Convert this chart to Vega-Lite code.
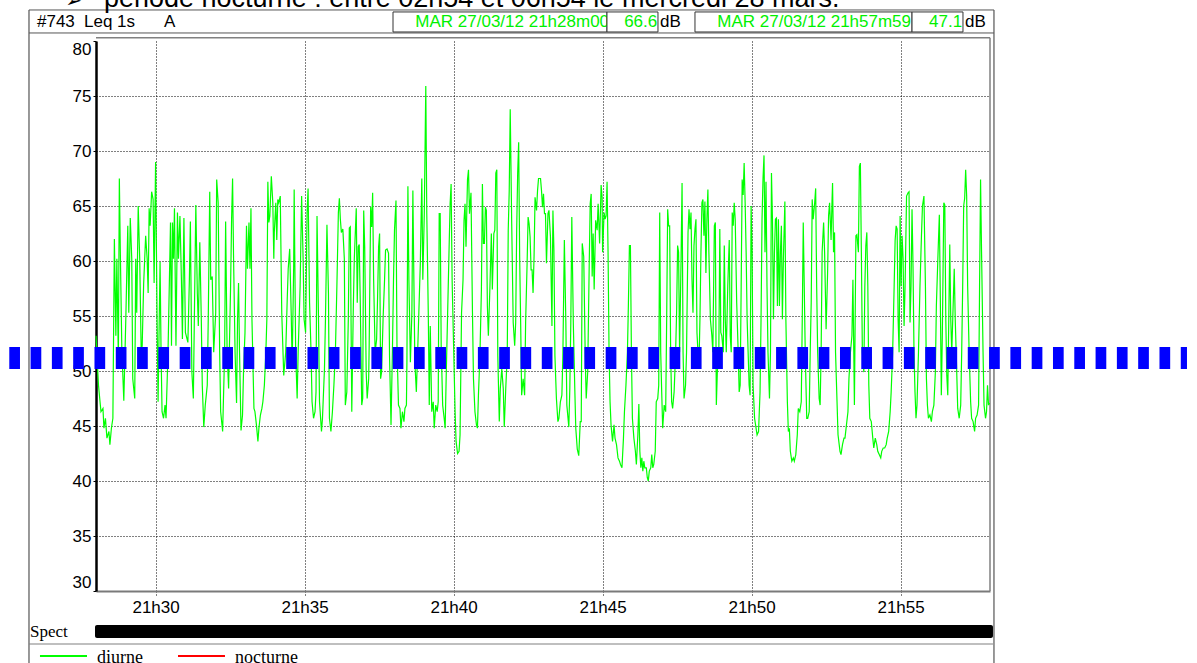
{
"$schema": "https://vega.github.io/schema/vega-lite/v6.json",
"width": 894, "height": 550,
"autosize": {"type": "none"},
"padding": {"left": 96, "top": 41, "right": 207, "bottom": 72},
"background": "white",
"config": {"view": {"stroke": null}, "font": "Liberation Sans", "axis": {"labelFont": "Liberation Sans"}},
"datasets": {"leq": [
{"t":0,"db":53.2},{"t":5,"db":48.7},{"t":10,"db":46.3},{"t":14,"db":46.6},{"t":16,"db":44.8},{"t":19,"db":45.7},{"t":22,"db":43.9},{"t":26,"db":44.5},{"t":28,"db":43.3},{"t":31,"db":44.8},{"t":34,"db":45.7},{"t":37,"db":62.0},{"t":40,"db":53.2},{"t":42,"db":60.2},{"t":45,"db":51.1},{"t":47,"db":67.5},{"t":49,"db":60.8},{"t":52,"db":52.0},{"t":56,"db":47.3},{"t":60,"db":54.7},{"t":64,"db":63.2},{"t":66,"db":55.3},{"t":69,"db":63.9},{"t":72,"db":60.2},{"t":74,"db":49.3},{"t":78,"db":47.5},{"t":80,"db":60.2},{"t":82,"db":55.3},{"t":85,"db":65.0},{"t":88,"db":60.2},{"t":91,"db":51.7},{"t":93,"db":52.3},{"t":96,"db":58.0},{"t":100,"db":62.3},{"t":103,"db":60.2},{"t":105,"db":57.1},{"t":107,"db":64.8},{"t":109,"db":63.2},{"t":112,"db":66.3},{"t":115,"db":65.6},{"t":117,"db":58.0},{"t":120,"db":69.0},{"t":123,"db":54.7},{"t":125,"db":47.2},{"t":129,"db":59.9},{"t":131,"db":51.7},{"t":133,"db":46.3},{"t":136,"db":45.7},{"t":139,"db":46.9},{"t":141,"db":45.7},{"t":145,"db":51.7},{"t":150,"db":63.5},{"t":152,"db":52.3},{"t":154,"db":63.5},{"t":156,"db":60.2},{"t":158,"db":64.8},{"t":161,"db":52.3},{"t":164,"db":64.4},{"t":166,"db":60.2},{"t":169,"db":64.1},{"t":172,"db":58.3},{"t":174,"db":52.9},{"t":177,"db":63.9},{"t":180,"db":53.5},{"t":185,"db":52.6},{"t":188,"db":58.3},{"t":190,"db":63.6},{"t":193,"db":49.9},{"t":196,"db":47.5},{"t":198,"db":54.7},{"t":201,"db":65.1},{"t":204,"db":57.1},{"t":206,"db":54.1},{"t":209,"db":61.7},{"t":212,"db":54.7},{"t":214,"db":48.7},{"t":217,"db":44.9},{"t":220,"db":46.9},{"t":224,"db":48.7},{"t":226,"db":54.7},{"t":229,"db":66.3},{"t":231,"db":58.3},{"t":234,"db":58.6},{"t":237,"db":51.7},{"t":241,"db":55.3},{"t":243,"db":67.4},{"t":246,"db":65.3},{"t":249,"db":51.7},{"t":251,"db":46.3},{"t":255,"db":44.5},
{"t":259,"db":51.7},{"t":261,"db":63.6},{"t":264,"db":51.7},{"t":267,"db":48.4},{"t":271,"db":57.7},{"t":273,"db":63.8},{"t":275,"db":67.5},{"t":277,"db":60.2},{"t":280,"db":51.7},{"t":283,"db":47.1},{"t":285,"db":54.7},{"t":287,"db":58.0},{"t":289,"db":51.7},{"t":292,"db":44.6},{"t":295,"db":46.0},{"t":297,"db":49.9},{"t":300,"db":53.5},{"t":303,"db":63.2},{"t":305,"db":59.3},{"t":308,"db":63.5},{"t":310,"db":59.3},{"t":312,"db":64.8},{"t":314,"db":54.7},{"t":318,"db":46.6},{"t":320,"db":46.3},{"t":323,"db":45.1},{"t":326,"db":43.6},{"t":328,"db":44.8},{"t":331,"db":46.0},{"t":334,"db":46.6},{"t":336,"db":47.2},{"t":339,"db":48.7},{"t":342,"db":51.7},{"t":344,"db":54.7},{"t":346,"db":67.2},{"t":348,"db":63.5},{"t":350,"db":64.1},{"t":353,"db":67.7},{"t":356,"db":65.3},{"t":358,"db":60.2},{"t":359,"db":62.6},{"t":362,"db":65.3},{"t":364,"db":61.9},{"t":366,"db":65.6},{"t":368,"db":65.3},{"t":371,"db":65.9},{"t":374,"db":55.3},{"t":378,"db":49.6},{"t":382,"db":51.7},{"t":385,"db":56.5},{"t":387,"db":59.3},{"t":390,"db":61.1},{"t":393,"db":55.3},{"t":395,"db":50.5},{"t":398,"db":59.5},{"t":399,"db":66.5},{"t":402,"db":51.7},{"t":405,"db":47.5},{"t":407,"db":51.7},{"t":411,"db":57.7},{"t":414,"db":65.9},{"t":417,"db":60.2},{"t":419,"db":54.7},{"t":422,"db":53.5},{"t":425,"db":64.4},{"t":427,"db":66.6},{"t":430,"db":56.2},{"t":433,"db":51.7},{"t":435,"db":47.2},{"t":438,"db":45.7},{"t":441,"db":46.3},{"t":443,"db":48.1},{"t":445,"db":64.1},{"t":448,"db":54.7},{"t":450,"db":47.2},{"t":454,"db":44.5},{"t":456,"db":45.7},{"t":460,"db":50.2},{"t":462,"db":54.7},{"t":465,"db":63.3},{"t":468,"db":57.1},{"t":470,"db":45.7},{"t":473,"db":44.5},{"t":476,"db":46.3},{"t":479,"db":48.7},{"t":482,"db":51.7},{"t":485,"db":57.7},{"t":488,"db":64.4},{"t":490,"db":65.7},{"t":492,"db":63.8},{"t":494,"db":62.6},{"t":497,"db":62.9},{"t":500,"db":60.2},{"t":502,"db":46.9},{"t":505,"db":48.1},{"t":508,"db":54.7},{"t":510,"db":63.0},
{"t":512,"db":63.1},{"t":515,"db":46.3},{"t":518,"db":55.6},{"t":520,"db":60.1},{"t":524,"db":64.8},{"t":526,"db":56.2},{"t":528,"db":61.3},{"t":530,"db":61.5},{"t":532,"db":56.5},{"t":535,"db":46.9},{"t":537,"db":47.5},{"t":539,"db":64.6},{"t":541,"db":61.3},{"t":544,"db":49.9},{"t":546,"db":47.5},{"t":549,"db":49.3},{"t":550,"db":52.3},{"t":553,"db":64.9},{"t":555,"db":63.1},{"t":557,"db":66.2},{"t":559,"db":58.3},{"t":562,"db":51.7},{"t":565,"db":52.9},{"t":567,"db":56.8},{"t":569,"db":61.3},{"t":571,"db":62.5},{"t":573,"db":49.3},{"t":575,"db":49.9},{"t":578,"db":54.7},{"t":581,"db":58.3},{"t":583,"db":61.0},{"t":586,"db":61.1},{"t":589,"db":60.7},{"t":591,"db":51.4},{"t":594,"db":45.1},{"t":597,"db":52.3},{"t":599,"db":58.3},{"t":601,"db":62.8},{"t":604,"db":65.5},{"t":606,"db":52.3},{"t":609,"db":46.9},{"t":612,"db":46.6},{"t":614,"db":44.8},{"t":617,"db":46.3},{"t":620,"db":45.4},{"t":622,"db":46.6},{"t":625,"db":46.9},{"t":626,"db":50.8},{"t":628,"db":66.8},{"t":630,"db":58.3},{"t":633,"db":50.8},{"t":636,"db":55.3},{"t":638,"db":66.4},{"t":640,"db":58.3},{"t":642,"db":50.8},{"t":645,"db":48.1},{"t":648,"db":52.3},{"t":650,"db":55.3},{"t":653,"db":59.8},{"t":656,"db":67.5},{"t":658,"db":58.3},{"t":661,"db":64.3},{"t":664,"db":75.9},{"t":666,"db":64.3},{"t":669,"db":55.3},{"t":671,"db":46.9},{"t":673,"db":54.1},{"t":676,"db":46.3},{"t":679,"db":47.2},{"t":681,"db":44.8},{"t":684,"db":46.9},{"t":687,"db":46.3},{"t":689,"db":47.2},{"t":691,"db":64.3},{"t":693,"db":64.3},{"t":695,"db":52.3},{"t":698,"db":46.9},{"t":701,"db":45.7},{"t":703,"db":44.8},{"t":705,"db":49.3},{"t":708,"db":55.3},{"t":711,"db":61.3},{"t":713,"db":65.2},{"t":715,"db":67.0},{"t":717,"db":58.3},{"t":720,"db":52.3},{"t":723,"db":46.3},{"t":725,"db":43.6},{"t":728,"db":42.5},{"t":731,"db":42.7},{"t":733,"db":44.2},{"t":736,"db":55.3},{"t":739,"db":58.3},{"t":741,"db":63.7},{"t":743,"db":65.2},{"t":745,"db":61.3},{"t":748,"db":67.4},{"t":750,"db":68.3},{"t":752,"db":64.3},{"t":755,"db":66.2},{"t":758,"db":55.3},{"t":760,"db":49.3},{"t":763,"db":46.3},{"t":766,"db":45.1},
{"t":768,"db":44.8},{"t":770,"db":47.8},{"t":773,"db":51.4},{"t":776,"db":57.4},{"t":778,"db":67.0},{"t":780,"db":61.6},{"t":782,"db":61.6},{"t":784,"db":64.9},{"t":786,"db":64.6},{"t":788,"db":55.9},{"t":790,"db":53.2},{"t":793,"db":57.4},{"t":796,"db":62.5},{"t":798,"db":57.4},{"t":801,"db":62.5},{"t":803,"db":62.8},{"t":805,"db":68.0},{"t":807,"db":68.3},{"t":809,"db":51.4},{"t":812,"db":45.4},{"t":814,"db":48.4},{"t":817,"db":50.2},{"t":820,"db":48.4},{"t":822,"db":44.9},{"t":825,"db":48.4},{"t":828,"db":51.4},{"t":830,"db":62.8},{"t":832,"db":66.4},{"t":834,"db":73.8},{"t":837,"db":63.4},{"t":840,"db":54.4},{"t":843,"db":52.3},{"t":845,"db":54.4},{"t":847,"db":62.8},{"t":849,"db":68.0},{"t":851,"db":70.8},{"t":853,"db":60.4},{"t":855,"db":54.4},{"t":857,"db":47.8},{"t":860,"db":49.3},{"t":863,"db":47.8},{"t":865,"db":54.4},{"t":868,"db":59.8},{"t":870,"db":64.0},{"t":872,"db":63.4},{"t":874,"db":62.2},{"t":876,"db":59.2},{"t":878,"db":59.2},{"t":880,"db":57.1},{"t":882,"db":60.4},{"t":884,"db":65.8},{"t":887,"db":64.6},{"t":889,"db":66.4},{"t":891,"db":67.5},{"t":893,"db":67.5},{"t":895,"db":67.5},{"t":897,"db":66.4},{"t":899,"db":64.9},{"t":901,"db":66.1},{"t":903,"db":64.3},{"t":905,"db":64.3},{"t":907,"db":59.8},{"t":910,"db":64.3},{"t":912,"db":64.6},{"t":915,"db":62.2},{"t":918,"db":54.1},{"t":920,"db":64.6},{"t":922,"db":61.0},{"t":924,"db":51.4},{"t":927,"db":47.5},{"t":930,"db":45.4},{"t":932,"db":45.7},{"t":935,"db":47.2},{"t":938,"db":47.8},{"t":940,"db":51.4},{"t":943,"db":61.9},{"t":946,"db":54.4},{"t":948,"db":46.9},{"t":952,"db":44.9},{"t":954,"db":48.4},{"t":956,"db":54.4},{"t":958,"db":64.0},{"t":961,"db":54.4},{"t":964,"db":48.4},{"t":966,"db":44.8},{"t":969,"db":42.9},{"t":972,"db":42.3},{"t":975,"db":45.4},{"t":977,"db":45.4},{"t":979,"db":61.6},{"t":982,"db":60.4},{"t":985,"db":51.4},{"t":987,"db":47.5},{"t":990,"db":49.9},{"t":993,"db":59.5},{"t":995,"db":65.2},{"t":997,"db":66.1},{"t":999,"db":58.6},{"t":1001,"db":62.5},{"t":1003,"db":57.4},{"t":1006,"db":63.7},{"t":1009,"db":62.8},{"t":1011,"db":65.2},{"t":1014,"db":61.6},{"t":1017,"db":66.9},{"t":1019,"db":65.8},
{"t":1020,"db":60.8},{"t":1023,"db":64.4},{"t":1025,"db":63.8},{"t":1027,"db":64.1},{"t":1029,"db":67.2},{"t":1031,"db":60.8},{"t":1033,"db":51.7},{"t":1035,"db":47.2},{"t":1037,"db":45.1},{"t":1040,"db":43.6},{"t":1043,"db":45.1},{"t":1045,"db":43.9},{"t":1048,"db":43.3},{"t":1051,"db":42.1},{"t":1054,"db":41.8},{"t":1056,"db":41.5},{"t":1059,"db":41.2},{"t":1062,"db":43.9},{"t":1064,"db":46.3},{"t":1067,"db":48.7},{"t":1070,"db":51.7},{"t":1072,"db":56.2},{"t":1074,"db":61.4},{"t":1076,"db":61.4},{"t":1078,"db":51.7},{"t":1080,"db":45.7},{"t":1083,"db":43.9},{"t":1086,"db":42.7},{"t":1088,"db":41.5},{"t":1091,"db":44.2},{"t":1093,"db":47.0},{"t":1095,"db":42.7},{"t":1097,"db":41.2},{"t":1099,"db":42.1},{"t":1101,"db":40.9},{"t":1103,"db":41.8},{"t":1105,"db":41.2},{"t":1108,"db":41.2},{"t":1110,"db":40.3},{"t":1112,"db":40.0},{"t":1114,"db":40.9},{"t":1117,"db":41.2},{"t":1119,"db":42.4},{"t":1121,"db":41.2},{"t":1123,"db":41.5},{"t":1126,"db":42.7},{"t":1128,"db":47.2},{"t":1131,"db":47.5},{"t":1133,"db":48.7},{"t":1135,"db":64.4},{"t":1137,"db":51.7},{"t":1139,"db":48.1},{"t":1141,"db":44.8},{"t":1144,"db":46.9},{"t":1147,"db":46.3},{"t":1149,"db":54.7},{"t":1151,"db":64.7},{"t":1153,"db":63.2},{"t":1155,"db":63.2},{"t":1157,"db":51.7},{"t":1159,"db":47.2},{"t":1161,"db":46.6},{"t":1164,"db":48.1},{"t":1167,"db":51.7},{"t":1169,"db":55.3},{"t":1171,"db":61.4},{"t":1173,"db":60.8},{"t":1175,"db":51.7},{"t":1178,"db":60.2},{"t":1180,"db":67.1},{"t":1182,"db":51.7},{"t":1184,"db":47.5},{"t":1187,"db":48.7},{"t":1189,"db":51.7},{"t":1192,"db":62.6},{"t":1194,"db":64.7},{"t":1196,"db":62.9},{"t":1198,"db":64.4},{"t":1200,"db":58.3},{"t":1202,"db":55.3},{"t":1204,"db":61.4},{"t":1206,"db":62.9},{"t":1208,"db":63.8},{"t":1210,"db":53.5},{"t":1212,"db":51.7},{"t":1214,"db":50.5},{"t":1216,"db":54.7},{"t":1218,"db":60.8},{"t":1220,"db":65.3},{"t":1222,"db":65.6},{"t":1224,"db":62.3},{"t":1226,"db":65.4},{"t":1228,"db":58.9},{"t":1230,"db":63.8},{"t":1232,"db":66.5},{"t":1234,"db":60.8},{"t":1237,"db":54.7},{"t":1240,"db":53.2},{"t":1242,"db":51.7},{"t":1245,"db":63.2},{"t":1247,"db":63.5},{"t":1249,"db":46.9},{"t":1251,"db":49.9},{"t":1254,"db":51.7},{"t":1256,"db":62.9},{"t":1258,"db":53.5},{"t":1260,"db":53.2},{"t":1263,"db":51.7},{"t":1265,"db":61.4},{"t":1267,"db":54.7},{"t":1269,"db":51.7},{"t":1272,"db":57.7},{"t":1275,"db":61.9},
{"t":1277,"db":53.2},{"t":1279,"db":51.7},{"t":1281,"db":64.4},{"t":1283,"db":63.2},{"t":1285,"db":65.3},{"t":1287,"db":63.8},{"t":1290,"db":56.2},{"t":1293,"db":51.7},{"t":1295,"db":48.1},{"t":1297,"db":48.7},{"t":1299,"db":57.7},{"t":1301,"db":67.4},{"t":1303,"db":66.0},{"t":1305,"db":68.9},{"t":1307,"db":65.3},{"t":1309,"db":60.8},{"t":1311,"db":54.7},{"t":1313,"db":51.7},{"t":1315,"db":48.7},{"t":1317,"db":47.8},{"t":1319,"db":65.0},{"t":1321,"db":60.8},{"t":1323,"db":48.7},{"t":1326,"db":45.7},{"t":1329,"db":44.8},{"t":1331,"db":44.2},{"t":1334,"db":44.5},{"t":1337,"db":48.1},{"t":1339,"db":54.7},{"t":1341,"db":63.8},{"t":1343,"db":67.5},{"t":1345,"db":69.6},{"t":1347,"db":60.8},{"t":1349,"db":67.2},{"t":1351,"db":57.7},{"t":1353,"db":51.7},{"t":1356,"db":47.5},{"t":1358,"db":51.7},{"t":1360,"db":68.0},{"t":1362,"db":63.8},{"t":1364,"db":54.7},{"t":1366,"db":60.8},{"t":1368,"db":63.8},{"t":1370,"db":63.9},{"t":1372,"db":55.9},{"t":1374,"db":63.8},{"t":1376,"db":55.9},{"t":1378,"db":60.8},{"t":1380,"db":63.2},{"t":1382,"db":54.7},{"t":1384,"db":60.2},{"t":1387,"db":65.4},{"t":1389,"db":54.7},{"t":1392,"db":47.2},{"t":1394,"db":44.5},{"t":1396,"db":44.8},{"t":1398,"db":42.7},{"t":1401,"db":41.8},{"t":1404,"db":42.1},{"t":1406,"db":41.8},{"t":1409,"db":42.4},{"t":1412,"db":44.2},{"t":1414,"db":46.6},{"t":1417,"db":46.3},{"t":1420,"db":47.2},{"t":1422,"db":54.7},{"t":1424,"db":63.5},{"t":1426,"db":57.7},{"t":1428,"db":51.7},{"t":1431,"db":45.7},{"t":1433,"db":45.7},{"t":1436,"db":46.3},{"t":1438,"db":51.7},{"t":1440,"db":56.2},{"t":1442,"db":65.6},{"t":1444,"db":63.8},{"t":1447,"db":65.3},{"t":1449,"db":66.6},{"t":1451,"db":57.7},{"t":1453,"db":51.7},{"t":1456,"db":47.5},{"t":1458,"db":46.9},{"t":1460,"db":51.7},{"t":1462,"db":60.8},{"t":1465,"db":63.5},{"t":1467,"db":60.8},{"t":1470,"db":53.8},{"t":1473,"db":58.9},{"t":1475,"db":64.1},{"t":1477,"db":65.3},{"t":1480,"db":61.9},{"t":1482,"db":65.6},{"t":1483,"db":67.1},{"t":1485,"db":60.8},{"t":1487,"db":62.6},{"t":1489,"db":51.7},{"t":1492,"db":47.2},{"t":1494,"db":44.2},{"t":1498,"db":42.7},{"t":1500,"db":42.4},{"t":1503,"db":43.3},{"t":1506,"db":43.9},{"t":1508,"db":43.9},{"t":1511,"db":45.1},{"t":1514,"db":46.3},{"t":1516,"db":49.3},{"t":1519,"db":51.7},{"t":1522,"db":53.2},{"t":1524,"db":58.3},{"t":1527,"db":46.9},{"t":1530,"db":62.3},
{"t":1532,"db":62.4},{"t":1535,"db":60.8},{"t":1537,"db":68.6},{"t":1539,"db":68.9},{"t":1541,"db":60.8},{"t":1543,"db":51.7},{"t":1546,"db":49.9},{"t":1548,"db":57.7},{"t":1550,"db":61.4},{"t":1552,"db":62.6},{"t":1554,"db":57.7},{"t":1556,"db":48.7},{"t":1558,"db":45.7},{"t":1561,"db":45.4},{"t":1564,"db":43.9},{"t":1566,"db":43.0},{"t":1569,"db":43.9},{"t":1572,"db":43.3},{"t":1574,"db":42.7},{"t":1577,"db":42.4},{"t":1580,"db":42.1},{"t":1582,"db":42.7},{"t":1585,"db":43.0},{"t":1588,"db":43.0},{"t":1591,"db":43.3},{"t":1593,"db":43.9},{"t":1596,"db":44.5},{"t":1599,"db":46.3},{"t":1601,"db":48.1},{"t":1604,"db":51.7},{"t":1607,"db":57.7},{"t":1609,"db":61.9},{"t":1611,"db":63.2},{"t":1613,"db":62.9},{"t":1615,"db":54.7},{"t":1617,"db":51.7},{"t":1619,"db":64.1},{"t":1621,"db":57.7},{"t":1623,"db":62.3},{"t":1625,"db":60.2},{"t":1627,"db":54.1},{"t":1629,"db":57.7},{"t":1632,"db":65.9},{"t":1635,"db":66.2},{"t":1637,"db":66.3},{"t":1639,"db":54.4},{"t":1641,"db":57.7},{"t":1643,"db":64.7},{"t":1645,"db":59.5},{"t":1647,"db":51.7},{"t":1649,"db":48.1},{"t":1651,"db":45.7},{"t":1653,"db":46.9},{"t":1656,"db":51.7},{"t":1659,"db":57.7},{"t":1662,"db":62.3},{"t":1664,"db":65.0},{"t":1667,"db":65.9},{"t":1670,"db":57.7},{"t":1672,"db":49.3},{"t":1674,"db":46.9},{"t":1676,"db":45.7},{"t":1679,"db":46.0},{"t":1682,"db":45.4},{"t":1684,"db":46.3},{"t":1687,"db":46.9},{"t":1690,"db":49.9},{"t":1692,"db":55.9},{"t":1695,"db":60.2},{"t":1698,"db":64.2},{"t":1700,"db":56.5},{"t":1702,"db":47.8},{"t":1704,"db":53.2},{"t":1707,"db":65.3},{"t":1709,"db":65.1},{"t":1711,"db":54.7},{"t":1713,"db":49.6},{"t":1715,"db":47.8},{"t":1717,"db":54.7},{"t":1719,"db":61.5},{"t":1721,"db":54.7},{"t":1723,"db":51.7},{"t":1725,"db":54.7},{"t":1728,"db":59.3},{"t":1730,"db":54.7},{"t":1733,"db":49.9},{"t":1735,"db":46.6},{"t":1738,"db":45.7},{"t":1741,"db":46.9},{"t":1743,"db":51.7},{"t":1745,"db":57.7},{"t":1747,"db":65.0},{"t":1749,"db":65.7},{"t":1751,"db":68.3},{"t":1753,"db":65.9},{"t":1755,"db":57.7},{"t":1758,"db":51.7},{"t":1761,"db":47.2},{"t":1763,"db":45.7},{"t":1766,"db":45.4},{"t":1769,"db":44.5},{"t":1771,"db":45.7},{"t":1774,"db":46.0},{"t":1777,"db":46.9},{"t":1779,"db":57.7},{"t":1781,"db":67.4},{"t":1783,"db":60.8},{"t":1786,"db":51.7},{"t":1788,"db":46.9},{"t":1791,"db":45.7},{"t":1793,"db":46.3},{"t":1795,"db":48.7},{"t":1797,"db":46.9},{"t":1799,"db":47.1}
]},
"layer": [
{"data": {"values": [{}]}, "mark": {"type": "rule", "color": "#333333", "strokeWidth": 1},
 "encoding": {"x": {"datum": -134.9, "type": "quantitative", "scale": {"domain": [0, 1800], "nice": false, "zero": false}}, "y": {"datum": 82.82, "type": "quantitative", "scale": {"domain": [30, 80], "nice": false, "zero": false}}, "y2": {"datum": 23.3}}},
{"data": {"values": [{}]}, "mark": {"type": "rule", "color": "#333333", "strokeWidth": 1},
 "encoding": {"x": {"datum": 1808, "type": "quantitative", "scale": {"domain": [0, 1800], "nice": false, "zero": false}}, "y": {"datum": 82.82, "type": "quantitative", "scale": {"domain": [30, 80], "nice": false, "zero": false}}, "y2": {"datum": 23.3}}},
{"data": {"values": [{}]}, "mark": {"type": "rule", "color": "#555555", "strokeWidth": 1},
 "encoding": {"x": {"datum": -134.9, "type": "quantitative", "scale": {"domain": [0, 1800], "nice": false, "zero": false}}, "x2": {"datum": 1808}, "y": {"datum": 82.82, "type": "quantitative", "scale": {"domain": [30, 80], "nice": false, "zero": false}}}},
{"data": {"values": [{}]}, "mark": {"type": "rule", "color": "#555555", "strokeWidth": 1},
 "encoding": {"x": {"datum": -134.9, "type": "quantitative", "scale": {"domain": [0, 1800], "nice": false, "zero": false}}, "x2": {"datum": 1808}, "y": {"datum": 80.73, "type": "quantitative", "scale": {"domain": [30, 80], "nice": false, "zero": false}}}},
{"data": {"values": [{}]}, "mark": {"type": "rule", "color": "#808080", "strokeWidth": 1.5},
 "encoding": {"x": {"datum": 0, "type": "quantitative", "scale": {"domain": [0, 1800], "nice": false, "zero": false}}, "x2": {"datum": 1800}, "y": {"datum": 80.3, "type": "quantitative", "scale": {"domain": [30, 80], "nice": false, "zero": false}}}},
{"data": {"values": [{}]}, "mark": {"type": "rule", "color": "#808080", "strokeWidth": 1.5},
 "encoding": {"x": {"datum": 1800, "type": "quantitative", "scale": {"domain": [0, 1800], "nice": false, "zero": false}}, "y": {"datum": 80.3, "type": "quantitative", "scale": {"domain": [30, 80], "nice": false, "zero": false}}, "y2": {"datum": 30}}},
{"data": {"values": [{}]}, "mark": {"type": "rule", "color": "#808080", "strokeWidth": 1.2},
 "encoding": {"x": {"datum": -134.9, "type": "quantitative", "scale": {"domain": [0, 1800], "nice": false, "zero": false}}, "x2": {"datum": 1806}, "y": {"datum": 25.18, "type": "quantitative", "scale": {"domain": [30, 80], "nice": false, "zero": false}}}},
{"data": {"values": [{}]}, "mark": {"type": "rect", "fill": "white", "stroke": "#333333", "strokeWidth": 1},
 "encoding": {"x": {"datum": 598, "type": "quantitative", "scale": {"domain": [0, 1800], "nice": false, "zero": false}}, "x2": {"datum": 1028.8}, "y": {"datum": 82.64, "type": "quantitative", "scale": {"domain": [30, 80], "nice": false, "zero": false}}, "y2": {"datum": 80.82}}},
{"data": {"values": [{}]}, "mark": {"type": "text", "align": "right", "baseline": "middle", "font": "Liberation Sans", "fontSize": 17, "color": "#00f000"},
 "encoding": {"x": {"datum": 1033, "type": "quantitative", "scale": {"domain": [0, 1800], "nice": false, "zero": false}}, "y": {"datum": 81.73, "type": "quantitative", "scale": {"domain": [30, 80], "nice": false, "zero": false}}, "text": {"value": "MAR 27/03/12 21h28m00"}}},
{"data": {"values": [{}]}, "mark": {"type": "rect", "fill": "white", "stroke": "#333333", "strokeWidth": 1},
 "encoding": {"x": {"datum": 1028.8, "type": "quantitative", "scale": {"domain": [0, 1800], "nice": false, "zero": false}}, "x2": {"datum": 1131.5}, "y": {"datum": 82.64, "type": "quantitative", "scale": {"domain": [30, 80], "nice": false, "zero": false}}, "y2": {"datum": 80.82}}},
{"data": {"values": [{}]}, "mark": {"type": "text", "align": "right", "baseline": "middle", "font": "Liberation Sans", "fontSize": 17, "color": "#00f000"},
 "encoding": {"x": {"datum": 1130, "type": "quantitative", "scale": {"domain": [0, 1800], "nice": false, "zero": false}}, "y": {"datum": 81.73, "type": "quantitative", "scale": {"domain": [30, 80], "nice": false, "zero": false}}, "text": {"value": "66.6"}}},
{"data": {"values": [{}]}, "mark": {"type": "text", "align": "left", "baseline": "middle", "font": "Liberation Sans", "fontSize": 17, "color": "#000000"},
 "encoding": {"x": {"datum": 1135.6, "type": "quantitative", "scale": {"domain": [0, 1800], "nice": false, "zero": false}}, "y": {"datum": 81.73, "type": "quantitative", "scale": {"domain": [30, 80], "nice": false, "zero": false}}, "text": {"value": "dB"}}},
{"data": {"values": [{}]}, "mark": {"type": "rect", "fill": "white", "stroke": "#333333", "strokeWidth": 1},
 "encoding": {"x": {"datum": 1206, "type": "quantitative", "scale": {"domain": [0, 1800], "nice": false, "zero": false}}, "x2": {"datum": 1643}, "y": {"datum": 82.64, "type": "quantitative", "scale": {"domain": [30, 80], "nice": false, "zero": false}}, "y2": {"datum": 80.82}}},
{"data": {"values": [{}]}, "mark": {"type": "text", "align": "right", "baseline": "middle", "font": "Liberation Sans", "fontSize": 17, "color": "#00f000"},
 "encoding": {"x": {"datum": 1641, "type": "quantitative", "scale": {"domain": [0, 1800], "nice": false, "zero": false}}, "y": {"datum": 81.73, "type": "quantitative", "scale": {"domain": [30, 80], "nice": false, "zero": false}}, "text": {"value": "MAR 27/03/12 21h57m59"}}},
{"data": {"values": [{}]}, "mark": {"type": "rect", "fill": "white", "stroke": "#333333", "strokeWidth": 1},
 "encoding": {"x": {"datum": 1643, "type": "quantitative", "scale": {"domain": [0, 1800], "nice": false, "zero": false}}, "x2": {"datum": 1745.6}, "y": {"datum": 82.64, "type": "quantitative", "scale": {"domain": [30, 80], "nice": false, "zero": false}}, "y2": {"datum": 80.82}}},
{"data": {"values": [{}]}, "mark": {"type": "text", "align": "right", "baseline": "middle", "font": "Liberation Sans", "fontSize": 17, "color": "#00f000"},
 "encoding": {"x": {"datum": 1744, "type": "quantitative", "scale": {"domain": [0, 1800], "nice": false, "zero": false}}, "y": {"datum": 81.73, "type": "quantitative", "scale": {"domain": [30, 80], "nice": false, "zero": false}}, "text": {"value": "47.1"}}},
{"data": {"values": [{}]}, "mark": {"type": "text", "align": "left", "baseline": "middle", "font": "Liberation Sans", "fontSize": 17, "color": "#000000"},
 "encoding": {"x": {"datum": 1749.6, "type": "quantitative", "scale": {"domain": [0, 1800], "nice": false, "zero": false}}, "y": {"datum": 81.73, "type": "quantitative", "scale": {"domain": [30, 80], "nice": false, "zero": false}}, "text": {"value": "dB"}}},
{"data": {"values": [{}]}, "mark": {"type": "text", "align": "left", "baseline": "middle", "font": "Liberation Sans", "fontSize": 17, "color": "#000000"},
 "encoding": {"x": {"datum": -118.8, "type": "quantitative", "scale": {"domain": [0, 1800], "nice": false, "zero": false}}, "y": {"datum": 81.73, "type": "quantitative", "scale": {"domain": [30, 80], "nice": false, "zero": false}}, "text": {"value": "#743"}}},
{"data": {"values": [{}]}, "mark": {"type": "text", "align": "left", "baseline": "middle", "font": "Liberation Sans", "fontSize": 17, "color": "#000000"},
 "encoding": {"x": {"datum": -24.2, "type": "quantitative", "scale": {"domain": [0, 1800], "nice": false, "zero": false}}, "y": {"datum": 81.73, "type": "quantitative", "scale": {"domain": [30, 80], "nice": false, "zero": false}}, "text": {"value": "Leq 1s"}}},
{"data": {"values": [{}]}, "mark": {"type": "text", "align": "left", "baseline": "middle", "font": "Liberation Sans", "fontSize": 17, "color": "#000000"},
 "encoding": {"x": {"datum": 136.9, "type": "quantitative", "scale": {"domain": [0, 1800], "nice": false, "zero": false}}, "y": {"datum": 81.73, "type": "quantitative", "scale": {"domain": [30, 80], "nice": false, "zero": false}}, "text": {"value": "A"}}},
{"data": {"values": [{}]}, "mark": {"type": "text", "align": "left", "baseline": "alphabetic", "font": "Liberation Sans", "fontSize": 27, "color": "#000000"},
 "encoding": {"x": {"datum": 16.1, "type": "quantitative", "scale": {"domain": [0, 1800], "nice": false, "zero": false}}, "y": {"datum": 83.1, "type": "quantitative", "scale": {"domain": [30, 80], "nice": false, "zero": false}}, "text": {"value": "période nocturne : entre 02h54 et 06h54 le mercredi 28 mars."}}},
{"data": {"values": [{}]}, "mark": {"type": "text", "align": "left", "baseline": "alphabetic", "font": "DejaVu Sans", "fontSize": 20, "color": "#000000"},
 "encoding": {"x": {"datum": -62, "type": "quantitative", "scale": {"domain": [0, 1800], "nice": false, "zero": false}}, "y": {"datum": 83.1, "type": "quantitative", "scale": {"domain": [30, 80], "nice": false, "zero": false}}, "text": {"value": "➢"}}},
{"data": {"values": [{}]}, "mark": {"type": "text", "align": "left", "baseline": "middle", "font": "Liberation Serif", "fontSize": 17, "color": "#000000"},
 "encoding": {"x": {"datum": -132.9, "type": "quantitative", "scale": {"domain": [0, 1800], "nice": false, "zero": false}}, "y": {"datum": 26.27, "type": "quantitative", "scale": {"domain": [30, 80], "nice": false, "zero": false}}, "text": {"value": "Spect"}}},
{"data": {"values": [{}]}, "mark": {"type": "rect", "fill": "#000000", "cornerRadius": 2},
 "encoding": {"x": {"datum": -2, "type": "quantitative", "scale": {"domain": [0, 1800], "nice": false, "zero": false}}, "x2": {"datum": 1806}, "y": {"datum": 26.91, "type": "quantitative", "scale": {"domain": [30, 80], "nice": false, "zero": false}}, "y2": {"datum": 25.73}}},
{"data": {"values": [{}]}, "mark": {"type": "rule", "color": "#00ff00", "strokeWidth": 2},
 "encoding": {"x": {"datum": -112.8, "type": "quantitative", "scale": {"domain": [0, 1800], "nice": false, "zero": false}}, "x2": {"datum": -18.1}, "y": {"datum": 24.09, "type": "quantitative", "scale": {"domain": [30, 80], "nice": false, "zero": false}}}},
{"data": {"values": [{}]}, "mark": {"type": "rule", "color": "#ff0000", "strokeWidth": 2},
 "encoding": {"x": {"datum": 165.1, "type": "quantitative", "scale": {"domain": [0, 1800], "nice": false, "zero": false}}, "x2": {"datum": 259.7}, "y": {"datum": 24.09, "type": "quantitative", "scale": {"domain": [30, 80], "nice": false, "zero": false}}}},
{"data": {"values": [{}]}, "mark": {"type": "text", "align": "left", "baseline": "alphabetic", "font": "Liberation Serif", "fontSize": 18, "color": "#000000"},
 "encoding": {"x": {"datum": 2, "type": "quantitative", "scale": {"domain": [0, 1800], "nice": false, "zero": false}}, "y": {"datum": 23.45, "type": "quantitative", "scale": {"domain": [30, 80], "nice": false, "zero": false}}, "text": {"value": "diurne"}}},
{"data": {"values": [{}]}, "mark": {"type": "text", "align": "left", "baseline": "alphabetic", "font": "Liberation Serif", "fontSize": 18, "color": "#000000"},
 "encoding": {"x": {"datum": 279.9, "type": "quantitative", "scale": {"domain": [0, 1800], "nice": false, "zero": false}}, "y": {"datum": 23.45, "type": "quantitative", "scale": {"domain": [30, 80], "nice": false, "zero": false}}, "text": {"value": "nocturne"}}},
{"data": {"name": "leq"}, "mark": {"type": "line", "color": "#00ff00", "strokeWidth": 1.2},
 "encoding": {
  "x": {"field": "t", "type": "quantitative", "scale": {"domain": [0, 1800], "nice": false, "zero": false},
   "axis": {"title": null, "values": [120, 420, 720, 1020, 1320, 1620], "labelExpr": "'21h' + (28 + datum.value / 60)", "grid": true, "gridColor": "#000000", "gridDash": [1, 2], "gridWidth": 1, "domainColor": "#7a7a7a", "domainWidth": 2, "tickSize": 5, "tickColor": "#000000", "tickDash": [1, 2], "labelFontSize": 17, "labelColor": "#000000", "labelPadding": 3, "labelAngle": 0, "labelFlush": false}},
  "y": {"field": "db", "type": "quantitative", "scale": {"domain": [30, 80], "nice": false, "zero": false},
   "axis": {"title": null, "values": [30, 35, 40, 45, 50, 55, 60, 65, 70, 75, 80], "grid": true, "gridColor": "#000000", "gridDash": [1, 2], "gridWidth": 1, "gridOpacity": {"condition": {"test": "datum.value == 80 || datum.value == 30", "value": 0}, "value": 1}, "domainColor": "#000000", "domainWidth": 2.5, "tickSize": 3, "tickColor": "#000000", "labelFontSize": 17, "labelColor": "#000000", "labelPadding": 2, "labelFlush": true, "labelFlushOffset": 0}}
 }},
{"data": {"values": [{}]}, "mark": {"type": "rule", "color": "#0000ff", "strokeWidth": 22, "strokeDash": [10.7, 10.6], "strokeCap": "butt"},
 "encoding": {"x": {"datum": -174.6, "type": "quantitative", "scale": {"domain": [0, 1800], "nice": false, "zero": false}}, "x2": {"datum": 2196.6}, "y": {"datum": 51.18, "type": "quantitative", "scale": {"domain": [30, 80], "nice": false, "zero": false}}}}
]
}
